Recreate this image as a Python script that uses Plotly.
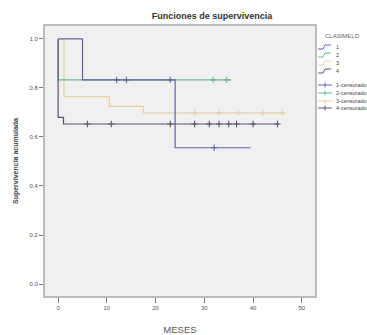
import plotly.graph_objects as go

# ---- data ----
groups = ["1", "2", "3", "4"]
colors = ["#6465a2", "#6db58f", "#e6d0a8", "#5a5470"]

g1_t = [0, 5, 24, 39.5]
g1_s = [1.0, 0.833, 0.556, 0.556]
g1_cx = [12, 14, 23, 32]
g1_cy = [0.833, 0.833, 0.833, 0.556]

g2_t = [0, 0, 35.5]
g2_s = [1.0, 0.833, 0.833]
g2_cx = [31.8, 34.6]
g2_cy = [0.833, 0.833]

g3_t = [0, 1.2, 10.5, 17.5, 46.5]
g3_s = [1.0, 0.765, 0.725, 0.698, 0.698]
g3_cx = [28, 33, 37, 42, 46]
g3_cy = [0.698, 0.698, 0.698, 0.698, 0.698]

g4_t = [0, 0, 1.1, 45.3]
g4_s = [1.0, 0.68, 0.653, 0.653]
g4_cx = [6, 10.9, 23, 28, 31, 33, 35, 36.6, 40, 45]
g4_cy = [0.653] * 10

x_ticks = [0, 10, 20, 30, 40, 50]
y_ticks = [0.0, 0.2, 0.4, 0.6, 0.8, 1.0]

series = [
    (g1_t, g1_s, g1_cx, g1_cy),
    (g2_t, g2_s, g2_cx, g2_cy),
    (g3_t, g3_s, g3_cx, g3_cy),
    (g4_t, g4_s, g4_cx, g4_cy),
]
draw_order = [2, 1, 0, 3]

fig = go.Figure()
for i in draw_order:
    t, s, cx, cy = series[i]
    fig.add_trace(go.Scatter(x=t, y=s, mode="lines", line_shape="hv",
                             line=dict(color=colors[i], width=1.2),
                             showlegend=False, hoverinfo="skip"))
for i in draw_order:
    t, s, cx, cy = series[i]
    fig.add_trace(go.Scatter(x=cx, y=cy, mode="markers",
                             marker=dict(symbol="cross-thin", size=4.5,
                                         line=dict(color=colors[i], width=1.1)),
                             showlegend=False, hoverinfo="skip"))

W, H = 367, 335
L, R, T, B = 44, 316, 25, 297
FONT = "Liberation Sans, Arial, sans-serif"


def px(p):
    return (p - L) / (R - L)


def py(p):
    return (B - p) / (B - T)


shapes = []
annotations = []
# manual legend
annotations.append(dict(text="CLASIMELD", x=px(323), y=py(36), xref="paper", yref="paper",
                        xanchor="left", yanchor="middle", showarrow=False,
                        font=dict(size=6, color="#666", family=FONT)))
leg_y = [47, 55, 63, 71]
for i, g in enumerate(groups):
    y0 = leg_y[i]
    path = (f"M {px(318)},{py(y0 + 2)} L {px(323)},{py(y0 + 2)} "
            f"L {px(325)},{py(y0 - 2)} L {px(331)},{py(y0 - 2)}")
    shapes.append(dict(type="path", path=path, xref="paper", yref="paper",
                       line=dict(color=colors[i], width=1)))
    annotations.append(dict(text=g, x=px(334), y=py(y0), xref="paper", yref="paper",
                            xanchor="left", yanchor="middle", showarrow=False,
                            font=dict(size=5.5, color="#444", family=FONT)))
cen_y = [85, 93, 101, 108]
for i, g in enumerate(groups):
    y0 = cen_y[i]
    shapes.append(dict(type="line", x0=px(318), x1=px(332), y0=py(y0), y1=py(y0),
                       xref="paper", yref="paper", line=dict(color=colors[i], width=1)))
    shapes.append(dict(type="line", x0=px(325), x1=px(325), y0=py(y0 - 2.5), y1=py(y0 + 2.5),
                       xref="paper", yref="paper", line=dict(color=colors[i], width=1)))
    annotations.append(dict(text=f"{g}-censurado", x=px(334), y=py(y0), xref="paper", yref="paper",
                            xanchor="left", yanchor="middle", showarrow=False,
                            font=dict(size=5.5, color="#444", family=FONT)))

# plot frame
shapes.append(dict(type="rect", x0=0, x1=1, y0=0, y1=1, xref="paper", yref="paper",
                   line=dict(color="#a8a8a8", width=1.5), layer="above"))

fig.update_layout(
    width=W, height=H,
    margin=dict(l=L, r=W - R, t=T, b=H - B),
    paper_bgcolor="white", plot_bgcolor="#f0f0f0",
    title=dict(text="<b>Funciones de supervivencia</b>", x=212 / W, xanchor="center",
               y=1 - 16 / H, yanchor="middle", xref="container", yref="container",
               font=dict(size=9, color="#333", family=FONT)),
    xaxis=dict(range=[-2.9, 52.9], tickvals=x_ticks, ticktext=[str(v) for v in x_ticks],
               showgrid=False, zeroline=False, ticks="outside", ticklen=5,
               ticklabelstandoff=0, automargin=False,
               tickcolor="#777", tickfont=dict(size=6, color="#555", family=FONT),
               title=dict(text="MESES", font=dict(size=9.5, color="#555", family=FONT),
                          standoff=21)),
    yaxis=dict(range=[-0.053, 1.057], tickvals=y_ticks, ticktext=[f"{v:.1f}" for v in y_ticks],
               showgrid=False, zeroline=False, ticks="outside", ticklen=4,
               automargin=False,
               tickcolor="#777", tickfont=dict(size=6, color="#555", family=FONT),
               title=dict(text="<b>Supervivencia acumulada</b>",
                          font=dict(size=7, color="#444", family=FONT), standoff=10)),
    shapes=shapes, annotations=annotations, showlegend=False,
)

fig.write_html("out.html")
